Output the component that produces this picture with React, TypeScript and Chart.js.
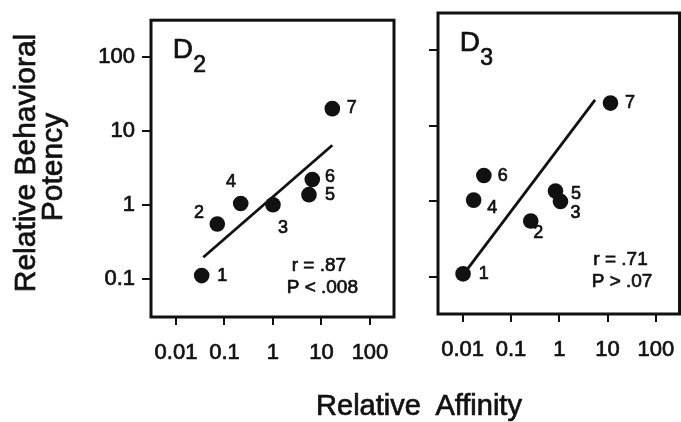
import React, { useEffect, useRef } from 'react';
import { Chart, registerables } from 'chart.js';

Chart.register(...registerables);

// ---------- data ----------
const compoundIds = ['1', '2', '3', '4', '5', '6', '7'];
const behavioralPotency = [0.11, 0.55, 1.0, 1.04, 1.37, 2.2, 20];
const d2Affinity = [0.0339, 0.0711, 1.0, 0.216, 5.52, 6.46, 16.7];
const d3Affinity = [0.0102, 0.257, 1.06, 0.0169, 0.836, 0.0275, 11.5];
const d2FitAffinity = [0.0366, 16.7];
const d2FitPotency = [0.195, 6.38];
const d3FitAffinity = [0.0129, 5.52];
const d3FitPotency = [0.13, 22.0];
const xTickValues = [0.01, 0.1, 1, 10, 100];
const yTickValues = [0.1, 1, 10, 100];
const d2Stats = ['r = .87', 'P < .008'];
const d3Stats = ['r = .71', 'P > .07'];
const yTitleLines = ['Relative Behavioral', 'Potency'];
const xTitle = 'Relative  Affinity';

// ---------- style / layout ----------
const FONT = '"Liberation Sans", Arial, Helvetica, sans-serif';
const INK = '#111';
const STROKE = 0.7;

type Panel = {
  sub: string;
  affinity: number[];
  fitX: number[];
  fitY: number[];
  stats: string[];
  labelOffsets: number[][];
  statsPos: number[][];
  canvasLeft: number;
  canvasWidth: number;
  yAxisWidth: number;
  padRight: number;
  padTop: number;
  xAxisHeight: number;
  xRange: number[];
  yRange: number[];
  showYLabels: boolean;
  showYTitle: boolean;
};

const panels: Panel[] = [
  {
    sub: '2',
    affinity: d2Affinity,
    fitX: d2FitAffinity,
    fitY: d2FitPotency,
    stats: d2Stats,
    labelOffsets: [[20.6, 0], [-18.3, -10.6], [10, 23.7], [-9.7, -21], [21, 0], [17.7, -2], [19.4, -1]],
    statsPos: [[140.7, 246], [135.7, 267.7]],
    canvasLeft: 0,
    canvasWidth: 410,
    yAxisWidth: 151,
    padRight: 16,
    padTop: 14,
    xAxisHeight: 105,
    xRange: [-2.515, 2.495],
    yRange: [-1.519, 2.498],
    showYLabels: true,
    showYTitle: true,
  },
  {
    sub: '3',
    affinity: d3Affinity,
    fitX: d3FitAffinity,
    fitY: d3FitPotency,
    stats: d3Stats,
    labelOffsets: [[20.7, 0], [7.6, 12.3], [15, 11.6], [18.7, 8.3], [20.6, 2.7], [19, 1], [19.4, 0]],
    statsPos: [[155.3, 247], [153.7, 269]],
    canvasLeft: 410,
    canvasWidth: 280,
    yAxisWidth: 28,
    padRight: 8,
    padTop: 13,
    xAxisHeight: 108,
    xRange: [-2.51, 2.49],
    yRange: [-1.49, 2.493],
    showYLabels: false,
    showYTitle: false,
  },
];

function drawText(ctx: CanvasRenderingContext2D, t: string, x: number, y: number) {
  ctx.fillText(t, x, y);
  ctx.strokeText(t, x, y);
}

function PanelChart({ p }: { p: Panel }) {
  const ref = useRef<HTMLCanvasElement | null>(null);
  useEffect(() => {
    if (!ref.current) return;
    const points = p.affinity.map((x, i) => ({ x, y: behavioralPotency[i] }));
    const fit = p.fitX.map((x, i) => ({ x, y: p.fitY[i] }));
    const decor = {
      id: 'decor',
      afterDatasetsDraw(chart: any) {
        const { ctx, chartArea } = chart;
        const { left, top, right, bottom } = chartArea;
        ctx.save();
        ctx.strokeStyle = INK;
        ctx.lineWidth = 3;
        ctx.strokeRect(left, top, right - left, bottom - top);
        ctx.fillStyle = INK;
        ctx.lineWidth = STROKE;
        ctx.lineJoin = 'round';
        // point labels
        ctx.font = `18px ${FONT}`;
        ctx.textAlign = 'center';
        ctx.textBaseline = 'middle';
        const meta = chart.getDatasetMeta(0);
        meta.data.forEach((el: any, i: number) => {
          const [dx, dy] = p.labelOffsets[i];
          drawText(ctx, compoundIds[i], el.x + dx, el.y + dy);
        });
        // heading
        ctx.textAlign = 'left';
        ctx.textBaseline = 'alphabetic';
        ctx.font = `28px ${FONT}`;
        drawText(ctx, 'D', left + 21.7, top + 37.7);
        ctx.font = `23px ${FONT}`;
        drawText(ctx, p.sub, left + 42.3, top + 51.5);
        // stats
        ctx.font = `19px ${FONT}`;
        ctx.textBaseline = 'middle';
        p.stats.forEach((s, i) => {
          drawText(ctx, s, left + p.statsPos[i][0], top + p.statsPos[i][1]);
        });
        // y title
        if (p.showYTitle) {
          ctx.font = `30px ${FONT}`;
          ctx.textAlign = 'center';
          ctx.textBaseline = 'alphabetic';
          const pos = [[35, 163], [61.7, 167]];
          yTitleLines.forEach((t, i) => {
            ctx.save();
            ctx.translate(pos[i][0], pos[i][1]);
            ctx.rotate(-Math.PI / 2);
            drawText(ctx, t, 0, 0);
            ctx.restore();
          });
        }
        ctx.restore();
      },
    };
    const gridOpts = {
      drawOnChartArea: false,
      drawTicks: true,
      color: INK,
      lineWidth: 2,
    };
    const tickText = {
      color: INK,
      textStrokeColor: INK,
      textStrokeWidth: STROKE,
      font: { family: FONT, size: 22 },
      callback: (v: any) => String(v),
    };
    const chart = new Chart(ref.current, {
      type: 'scatter',
      data: {
        datasets: [
          {
            data: points,
            pointRadius: 7.8,
            pointBackgroundColor: INK,
            pointBorderWidth: 0,
            showLine: false,
          },
          {
            data: fit,
            showLine: true,
            borderColor: INK,
            borderWidth: 2.8,
            pointRadius: 0,
          },
        ],
      },
      options: {
        animation: false,
        responsive: false,
        devicePixelRatio: 1,
        layout: { padding: { left: 0, top: p.padTop, right: p.padRight, bottom: 0 } },
        plugins: { legend: { display: false }, tooltip: { enabled: false } },
        scales: {
          x: {
            type: 'logarithmic',
            position: 'bottom',
            min: Math.pow(10, p.xRange[0]),
            max: Math.pow(10, p.xRange[1]),
            afterBuildTicks: (s: any) => {
              s.ticks = xTickValues.map((v) => ({ value: v }));
            },
            afterFit: (s: any) => {
              s.height = p.xAxisHeight;
            },
            grid: { ...gridOpts, tickLength: 8 },
            border: { display: false },
            ticks: { ...tickText, autoSkip: false, maxRotation: 0, padding: 15 },
          },
          y: {
            type: 'logarithmic',
            position: 'left',
            min: Math.pow(10, p.yRange[0]),
            max: Math.pow(10, p.yRange[1]),
            afterBuildTicks: (s: any) => {
              s.ticks = yTickValues.map((v) => ({ value: v }));
            },
            afterFit: (s: any) => {
              s.width = p.yAxisWidth;
            },
            grid: { ...gridOpts, tickLength: 9 },
            border: { display: false },
            ticks: { ...tickText, display: p.showYLabels, autoSkip: false, padding: 7 },
          },
        },
      },
      plugins: [decor],
    } as any);
    return () => chart.destroy();
  }, [p]);
  return (
    <canvas
      ref={ref}
      width={p.canvasWidth}
      height={422}
      style={{ position: 'absolute', left: p.canvasLeft, top: 0, width: p.canvasWidth, height: 422, display: 'block' }}
    />
  );
}

export default function App() {
  return (
    <div
      style={{
        position: 'absolute',
        left: 0,
        top: 0,
        width: 681,
        height: 422,
        overflow: 'hidden',
        background: '#fff',
      }}
    >
      {panels.map((p, i) => (
        <PanelChart key={i} p={p} />
      ))}
      <div
        style={{
          position: 'absolute',
          left: 219,
          top: 391,
          width: 400,
          textAlign: 'center',
          fontFamily: FONT,
          fontSize: 29,
          lineHeight: '29px',
          color: INK,
          whiteSpace: 'pre',
          WebkitTextStroke: `${STROKE}px ${INK}`,
        }}
      >
        {xTitle}
      </div>
    </div>
  );
}
